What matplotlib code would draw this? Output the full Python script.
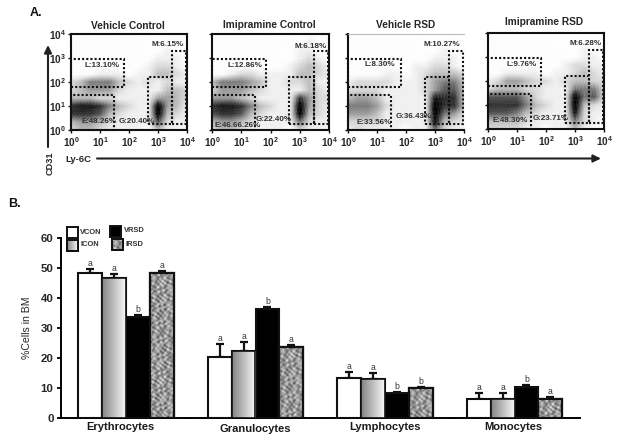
import numpy as np
import matplotlib
matplotlib.use("Agg")
import matplotlib.pyplot as plt
from matplotlib.patches import Rectangle

plt.rcParams['font.family'] = ['Liberation Sans', 'DejaVu Sans']
plt.rcParams['font.weight'] = 'bold'
plt.rcParams['mathtext.fontset'] = 'custom'
plt.rcParams['mathtext.bf'] = 'Liberation Sans:bold'
plt.rcParams['mathtext.rm'] = 'Liberation Sans:bold'

W, H = 624, 445
TXT = '#262626'

# ---- panel B data ----
categories = ['Erythrocytes', 'Granulocytes', 'Lymphocytes', 'Monocytes']
series_names = ['VCON', 'ICON', 'VRSD', 'IRSD']
vcon = [48.3, 20.4, 13.1, 6.15]
icon = [46.7, 22.4, 12.9, 6.2]
vrsd = [33.6, 36.4, 8.3, 10.3]
irsd = [48.3, 23.7, 9.8, 6.3]
vcon_err = [1.3, 4.2, 2.2, 2.0]
icon_err = [1.2, 3.0, 2.0, 2.1]
vrsd_err = [0.6, 0.5, 0.3, 0.7]
irsd_err = [0.5, 0.6, 0.5, 0.6]
vcon_sig = ['a', 'a', 'a', 'a']
icon_sig = ['a', 'a', 'a', 'a']
vrsd_sig = ['b', 'b', 'b', 'b']
irsd_sig = ['a', 'a', 'b', 'a']
y_ticks = [0, 10, 20, 30, 40, 50, 60]

# ---- panel A data: density read by eye (0 light .. 9 dark), rows from log y=4 down to 0
# in steps of 1/3 decade, columns log x=0 to 4
titles = ['Vehicle Control', 'Imipramine Control', 'Vehicle RSD', 'Imipramine RSD']
dens1 = ['0000000000000', '0000000000000', '0000000000100', '0000000001110',
         '0000000012210', '0001110113321', '2355532121211', '2344421111332',
         '3332211114432', '7887532119431', '7776321119321', '3443211116211', '2332111103110']
dens2 = ['0000000000000', '0000000000100', '0000000001100', '0000000001210',
         '0000000012321', '0012211113321', '3555431122311', '2444321111321',
         '4443211117422', '7887532119421', '6776321119321', '3443211115211', '2332111102110']
dens3 = ['0000000000000', '0000000000000', '0000000000100', '0000000001110',
         '0000000112210', '0000110123332', '1222211124553', '2222111124663',
         '3443111118773', '5554211119773', '4443111119542', '2222111118321', '1211110115211']
dens4 = ['0000000000000', '0000000000000', '0000000000100', '0000000000110',
         '0000000012211', '0011110112321', '1244322123322', '2333221115552',
         '6666421119562', '7777532119321', '6665321118211', '3333211115210', '2222110113100']
densities = [dens1, dens2, dens3, dens4]
L_labels = ['L:13.10%', 'L:12.86%', 'L:8.30%', 'L:9.76%']
M_labels = ['M:6.15%', 'M:6.18%', 'M:10.27%', 'M:6.28%']
E_labels = ['E:48.26%', 'E:46.66.26%', 'E:33.56%', 'E:48.30%']
G_labels = ['G:20.40%', 'G:22.40%', 'G:36.43%', 'G:23.71%']
decades = [0, 1, 2, 3, 4]

# gates in decades: x0, x1, y0, y1
gate_L = (0.0, 1.84, 1.78, 2.96)
gate_E = (0.0, 1.48, 0.0, 1.46)
gate_G = (2.64, 3.49, 0.25, 2.2)
gate_M = (3.49, 3.95, 0.25, 3.3)

panel_boxes = [(71, 34, 187, 130), (212, 34, 329, 130), (348, 34, 464, 130), (488, 33, 604, 129)]
title_xy = [(128, 26), (269, 25), (406, 25), (544, 22)]
L_xy = [(1.07, 2.67), (1.14, 2.67), (1.10, 2.75), (1.17, 2.70)]
M_xy = [(3.34, 3.58), (3.38, 3.50), (3.24, 3.58), (3.38, 3.58)]
E_xy = [(0.97, 0.37), (0.87, 0.20), (0.90, 0.30), (0.76, 0.37)]
G_xy = [(2.27, 0.37), (2.10, 0.45), (2.27, 0.55), (2.17, 0.42)]

fig = plt.figure(figsize=(W / 100, H / 100), dpi=100, facecolor='white')


def axes_px(x0, y0, x1, y1, **kw):
    return fig.add_axes([x0 / W, 1 - y1 / H, (x1 - x0) / W, (y1 - y0) / H], **kw)


def ftext(x, y, s, **kw):
    kw.setdefault('ha', 'center')
    kw.setdefault('va', 'center')
    kw.setdefault('color', TXT)
    return fig.text(x / W, 1 - y / H, s, **kw)


def mottle(nx, ny, f=1.0):
    xx, yy = np.meshgrid(np.arange(nx) * f, np.arange(ny) * f)
    return (np.sin(xx * 1.37 + 1.9 * np.sin(yy * 0.61)) * np.sin(yy * 1.13 + 1.7 * np.sin(xx * 0.47))
            + 0.5 * np.sin(xx * 0.53 + yy * 2.11) * np.cos(yy * 0.37 - xx * 1.93))


def upsample(grid, nx, ny):
    """Bilinear resampling of the read-off density grid onto panel pixels."""
    src = np.linspace(0, 4, grid.shape[1])
    xs = (np.arange(nx) + 0.5) / nx * 4
    ys = (np.arange(ny) + 0.5) / ny * 4
    a = np.array([np.interp(xs, src, r) for r in grid])
    b = np.array([np.interp(ys, src, c) for c in a.T]).T
    return b


# ---- panel A ----
speckle = mottle(240, 200, 2.3)
for i, box in enumerate(panel_boxes):
    ax = axes_px(*box)
    grid = np.array([[int(c) for c in row] for row in densities[i]], dtype=float)[::-1]
    d = upsample(grid, 232, 192) / 9
    sp = speckle[:192, :232]
    shade = np.clip(d ** 1.4 * 1.15 * (1 + 0.42 * sp) + 0.035 * (sp > 0.5), 0, 1)
    ax.imshow(1 - shade, cmap='gray', vmin=0, vmax=1, origin='lower', interpolation='bilinear',
              aspect='auto', extent=(0, 4, 0, 4), zorder=1)
    ax.set_xlim(0, 4)
    ax.set_ylim(0, 4)
    for g in (gate_L, gate_E, gate_G, gate_M):
        ax.add_patch(Rectangle((g[0], g[2]), g[1] - g[0], g[3] - g[2], fill=False, ec='#111111',
                               lw=1.5, ls=(0, (1.0, 1.0)), zorder=3, clip_on=False))
    for s, xy in zip((L_labels[i], M_labels[i], E_labels[i], G_labels[i]),
                     (L_xy[i], M_xy[i], E_xy[i], G_xy[i])):
        ax.text(xy[0], xy[1], s, fontsize=5.8, ha='center', va='center', color='#303030', zorder=4)
    ax.set_xticks(decades)
    ax.set_yticks(decades)
    ax.set_xticklabels([rf'$\mathbf{{10^{{{d_}}}}}$' for d_ in decades], fontsize=7.2, color=TXT)
    if i == 0:
        ax.set_yticklabels([rf'$\mathbf{{10^{{{d_}}}}}$' for d_ in decades], fontsize=7.2, color=TXT)
    else:
        ax.set_yticklabels([])
    ax.tick_params(length=2, width=1, pad=1.5, color='#111111')
    for s in ax.spines.values():
        s.set_linewidth(1.5)
        s.set_color('#111111')
    if i == 2:
        ax.spines['top'].set_color('#bbbbbb')
        ax.spines['top'].set_linewidth(0.8)
        ax.spines['right'].set_visible(False)
    ftext(title_xy[i][0], title_xy[i][1], titles[i], fontsize=7.3)

ftext(36, 13, 'A.', fontsize=9, color='#111111')
ftext(14, 204, 'B.', fontsize=9, color='#111111')
ftext(50, 163, 'CD31', fontsize=6.6, rotation=90)
ftext(78, 159, 'Ly-6C', fontsize=6.8)

over = fig.add_axes([0, 0, 1, 1], facecolor='none', zorder=5)
over.set_xlim(0, W)
over.set_ylim(H, 0)
over.axis('off')
over.annotate('', xy=(48, 45), xytext=(48, 147),
              arrowprops=dict(arrowstyle='-|>,head_width=0.22,head_length=0.45', color='#222222', lw=1.5, shrinkA=0, shrinkB=0))
over.annotate('', xy=(601, 158.5), xytext=(97, 158.5),
              arrowprops=dict(arrowstyle='-|>,head_width=0.22,head_length=0.45', color='#222222', lw=1.5, shrinkA=0, shrinkB=0))

# ---- panel B ----
ax = axes_px(60.5, 237.7, 580, 417.7)
ax.patch.set_alpha(0)
spacing = 129.5
bw = 23.8 / spacing
x = np.arange(len(categories))
all_vals = [vcon, icon, vrsd, irsd]
all_errs = [vcon_err, icon_err, vrsd_err, irsd_err]
all_sigs = [vcon_sig, icon_sig, vrsd_sig, irsd_sig]
faces = ['white', '#aaaaaa', 'black', '#9a9aa0']

gradient = np.linspace(0.52, 0.97, 60)[None, :]
tex = np.clip(0.6 + 0.2 * mottle(150, 260, 0.62), 0, 1)

for k, (vals, errs, sigs) in enumerate(zip(all_vals, all_errs, all_sigs)):
    pos = x + (k - 1.5) * bw
    bars = ax.bar(pos, vals, bw, color=faces[k], edgecolor='#111111', linewidth=1.5, zorder=3)
    ax.errorbar(pos, vals, yerr=[np.zeros(len(errs)), errs], fmt='none', ecolor='#111111',
                elinewidth=1.6, capsize=2.6, capthick=1.6, zorder=2)
    for p, v, e, s in zip(pos, vals, errs, sigs):
        ax.text(p, v + e + 1.8, s, fontsize=6.2, ha='center', va='center', color='#333333',
                fontweight='normal')
    for b in bars:
        bx, by, bwid, bh = b.get_x(), b.get_y(), b.get_width(), b.get_height()
        if k == 1:
            im = ax.imshow(gradient, cmap='gray', vmin=0, vmax=1, aspect='auto',
                           extent=(bx, bx + bwid, by, by + bh), zorder=3.1)
            im.set_clip_path(b)
        elif k == 3:
            npx = int(round(bh * 3))
            im = ax.imshow(tex[:npx, :24], cmap='gray', vmin=0, vmax=1, aspect='auto',
                           interpolation='bilinear',
                           extent=(bx, bx + bwid, by, by + bh), zorder=3.1)
            im.set_clip_path(b)
        if k in (1, 3):
            ax.add_patch(Rectangle((bx, by), bwid, bh, fill=False, ec='#111111',
                                   lw=1.6 if k == 3 else 1.2, zorder=3.2))

ax.set_ylim(0, 60)
ax.set_xlim(-(126 - 60.5) / spacing, (580 - 126) / spacing)
ax.set_yticks(y_ticks)
ax.set_yticklabels([str(t) for t in y_ticks], fontsize=8.2, color=TXT)
ax.set_xticks(x + 0.5)
ax.set_xticklabels([])
ax.tick_params(axis='y', length=3, width=1.3, pad=2)
ax.tick_params(axis='x', length=2, width=1.3, direction='inout')
ax.spines['top'].set_visible(False)
ax.spines['right'].set_visible(False)
ax.spines['left'].set_linewidth(1.4)
ax.spines['bottom'].set_linewidth(1.4)
ax.set_ylabel('%Cells in BM', fontsize=7.6, color=TXT, labelpad=6)

cat_xy = [(120, 427), (255, 429), (385, 427), (513, 427)]
for c, xy in zip(categories, cat_xy):
    ftext(xy[0], xy[1], c, fontsize=8, color='#1a1a1a')

# legend
legend_boxes = [(67, 227), (67, 240), (110, 226), (112, 239)]
legend_text = [(90.5, 233), (90, 244), (134, 231), (134.5, 244)]
for k, (name, (lx, ly), (tx, ty)) in enumerate(zip(series_names, legend_boxes, legend_text)):
    r = Rectangle((lx, ly), 11, 10.5, fc=faces[k], ec='#111111', lw=1.4, zorder=2)
    over.add_patch(r)
    if k == 1:
        over.imshow(gradient, cmap='gray', vmin=0, vmax=1, aspect='auto',
                    extent=(lx, lx + 11, ly + 10.5, ly), zorder=2.1)
    elif k == 3:
        over.imshow(tex[:11, :11], cmap='gray', vmin=0, vmax=1, aspect='auto',
                    extent=(lx, lx + 11, ly + 10.5, ly), zorder=2.1)
    if k in (1, 3):
        over.add_patch(Rectangle((lx, ly), 11, 10.5, fill=False, ec='#111111', lw=1.4, zorder=2.2))
    over.text(tx, ty, name, fontsize=5.4, ha='center', va='center', color='#333333')
over.set_xlim(0, W)
over.set_ylim(H, 0)

fig.savefig('out.png', dpi=100, facecolor='white')
